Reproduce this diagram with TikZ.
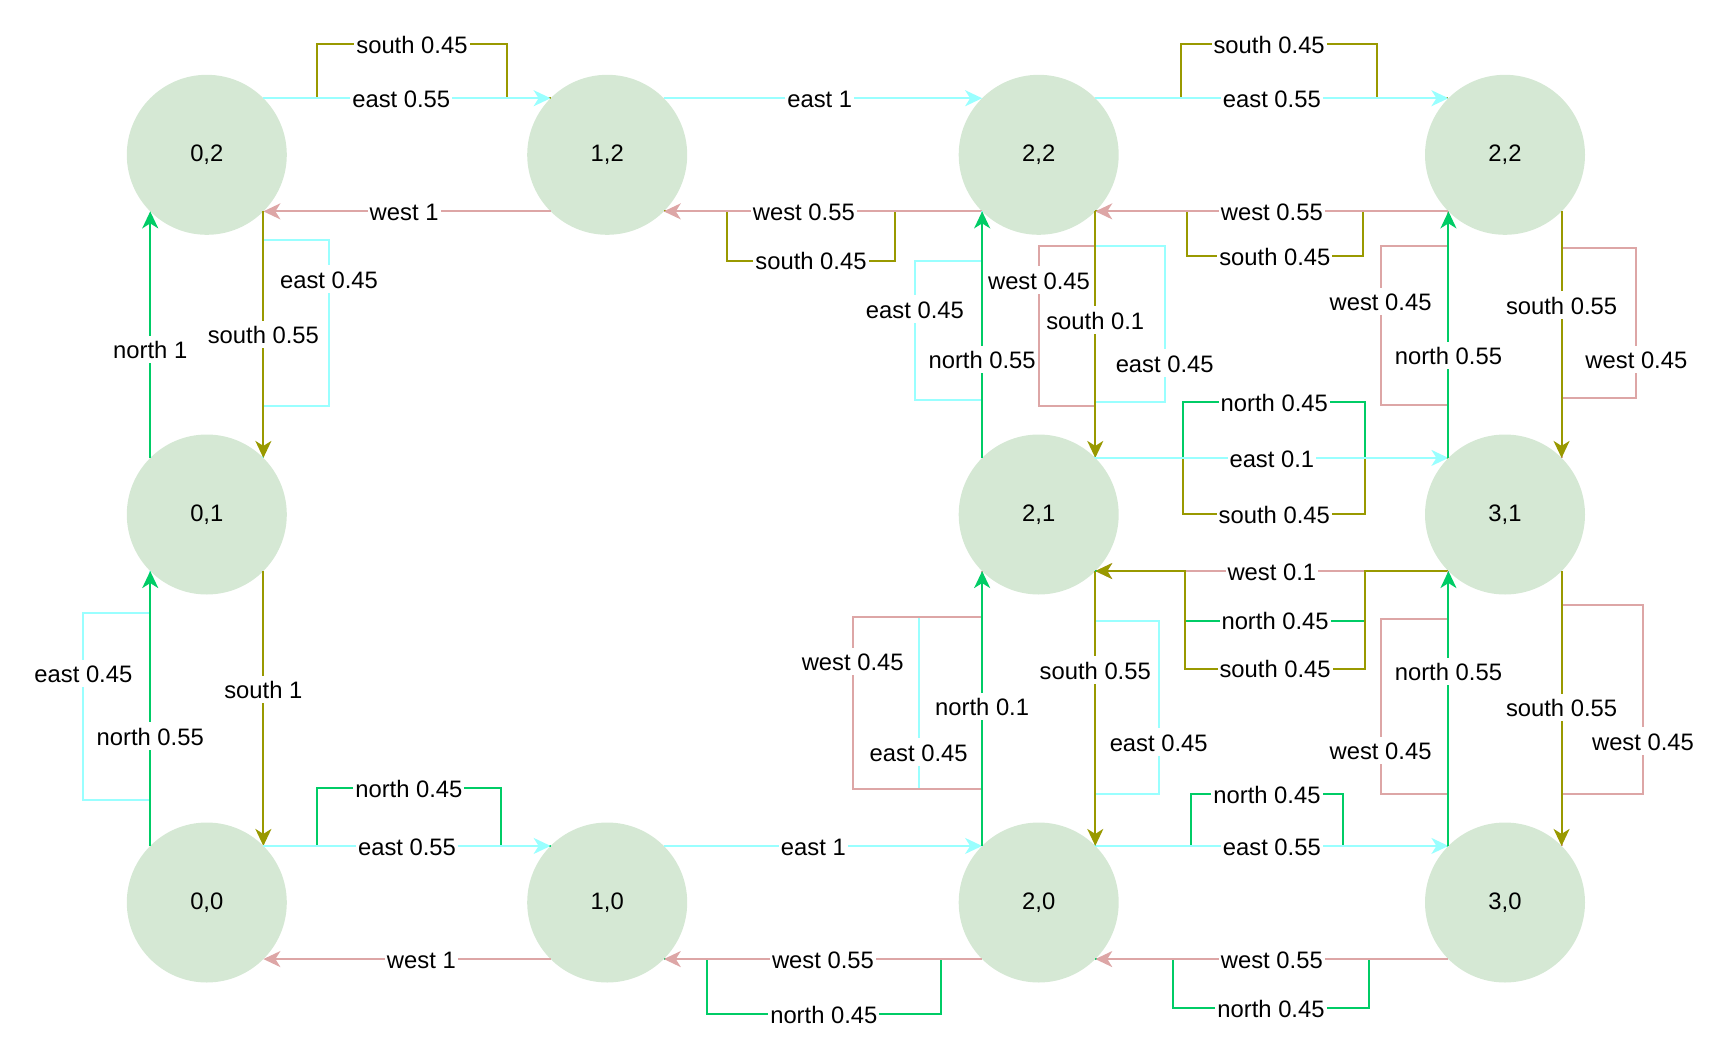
\documentclass[tikz,border=0pt]{standalone}
\usepackage{fontspec}
\setmainfont{Liberation Sans}
\usetikzlibrary{arrows.meta}
\definecolor{nfill}{HTML}{D5E8D4}
\definecolor{ccy}{HTML}{99FFFF}
\definecolor{cpk}{HTML}{DDA6A6}
\definecolor{cgr}{HTML}{00CC66}
\definecolor{col}{HTML}{999900}
\begin{document}
\begin{tikzpicture}[x=1pt,y=-1pt,
  font=\fontsize{23.8pt}{28pt}\selectfont,
  st/.style={circle, fill=nfill, draw=none, minimum size=160pt, inner sep=0pt, outer sep=0pt},
  lb/.style={fill=white, inner xsep=2pt, inner ysep=2.5pt, text height=20.5pt, text depth=2pt},
  ecy/.style={draw=ccy, line width=2pt},
  epk/.style={draw=cpk, line width=2pt},
  egr/.style={draw=cgr, line width=2pt},
  eol/.style={draw=col, line width=2pt},
  tip/.style={-{Stealth[length=17pt,width=16pt,inset=5pt]}}]
\useasboundingbox (0,0) rectangle (1714,1044);
% states
\node[st] (n02) at (206.8,154.8) {0,2};
\node[st] (n12) at (607.2,154.8) {1,2};
\node[st] (n22) at (1038.7,154.8) {2,2};
\node[st] (n32) at (1505,154.8) {2,2};
\node[st] (n01) at (206.8,514.5) {0,1};
\node[st] (n21) at (1038.7,514.5) {2,1};
\node[st] (n31) at (1505,514.5) {3,1};
\node[st] (n00) at (206.8,902.5) {0,0};
\node[st] (n10) at (607.2,902.5) {1,0};
\node[st] (n20) at (1038.7,902.5) {2,0};
\node[st] (n30) at (1505,902.5) {3,0};
% top row
\draw[eol] (n02.north east) -| (317,44.3) -- node[lb]{south 0.45} (506.9,44.3) |- (n12.north west);
\draw[ecy,tip] (n02.north east) -- node[lb,pos=0.48]{east 0.55} (n12.north west);
\draw[ecy,tip] (n12.north east) -- node[lb,pos=0.49]{east 1} (n22.north west);
\draw[epk,tip] (n12.south west) -- node[lb,pos=0.51]{west 1} (n02.south east);
\draw[eol] (n22.south west) -| (895.3,260.7) -- node[lb]{south 0.45} (726.7,260.7) |- (n12.south east);
\draw[epk,tip] (n22.south west) -- node[lb,pos=0.56]{west 0.55} (n12.south east);
\draw[eol] (n22.north east) -| (1181.1,44.3) -- node[lb,pos=0.45]{south 0.45} (1376.8,44.3) |- (n32.north west);
\draw[ecy,tip] (n22.north east) -- node[lb]{east 0.55} (n32.north west);
\draw[eol] (n32.south west) -| (1363.1,256.3) -- node[lb]{south 0.45} (1186.6,256.3) |- (n22.south east);
\draw[epk,tip] (n32.south west) -- node[lb]{west 0.55} (n22.south east);
% column 0
\draw[ecy] (n02.south east) |- (329,240) -- node[lb,pos=0.235]{east 0.45} (329,406) -| (n01.north east);
\draw[eol,tip] (n02.south east) -- node[lb]{south 0.55} (n01.north east);
\draw[egr,tip] (n01.north west) -- node[lb,pos=0.44]{north 1} (n02.south west);
\draw[eol,tip] (n01.south east) -- node[lb,pos=0.43]{south 1} (n00.north east);
\draw[ecy] (n00.north west) |- (83.4,800) -- node[lb,pos=0.675]{east 0.45} (83.4,612.5) -| (n01.south west);
\draw[egr,tip] (n00.north west) -- node[lb,pos=0.4]{north 0.55} (n01.south west);
% bottom row
\draw[egr] (n00.north east) -| (317,788.3) -- node[lb]{north 0.45} (500.8,788.3) |- (n10.north west);
\draw[ecy,tip] (n00.north east) -- node[lb]{east 0.55} (n10.north west);
\draw[epk,tip] (n10.south west) -- node[lb,pos=0.45]{west 1} (n00.south east);
\draw[ecy,tip] (n10.north east) -- node[lb,pos=0.47]{east 1} (n20.north west);
\draw[egr] (n20.south west) -| (941,1014.3) -- node[lb]{north 0.45} (706.7,1014.3) |- (n10.south east);
\draw[epk,tip] (n20.south west) -- node[lb]{west 0.55} (n10.south east);
\draw[egr] (n20.north east) -| (1191,794.3) -- node[lb]{north 0.45} (1342.9,794.3) |- (n30.north west);
\draw[ecy,tip] (n20.north east) -- node[lb]{east 0.55} (n30.north west);
\draw[egr] (n30.south west) -| (1369.1,1008) -- node[lb]{north 0.45} (1172.9,1008) |- (n20.south east);
\draw[epk,tip] (n30.south west) -- node[lb]{west 0.55} (n20.south east);
% column 2, upper
\draw[ecy] (n21.north west) |- (914.9,400.1) -- node[lb,pos=0.654]{east 0.45} (914.9,260.6) -| (n22.south west);
\draw[egr,tip] (n21.north west) -- node[lb,pos=0.4]{north 0.55} (n22.south west);
\draw[epk] (n22.south east) |- (1039,246.3) -- node[lb,pos=0.21]{west 0.45} (1039,406.1) -| (n21.north east);
\draw[ecy] (n22.south east) |- (1164.7,246.3) -- node[lb,pos=0.75]{east 0.45} (1164.7,402.1) -| (n21.north east);
\draw[eol,tip] (n22.south east) -- node[lb,pos=0.44]{south 0.1} (n21.north east);
% column 2, lower
\draw[ecy] (n20.north west) |- (918.7,789) -- node[lb,pos=0.216]{east 0.45} (918.7,616.7) -| (n21.south west);
\draw[epk] (n20.north west) |- (852.7,789) -- node[lb,pos=0.74]{west 0.45} (852.7,616.7) -| (n21.south west);
\draw[egr,tip] (n20.north west) -- node[lb,pos=0.507]{north 0.1} (n21.south west);
\draw[ecy] (n21.south east) |- (1158.7,620.5) -- node[lb,pos=0.70]{east 0.45} (1158.7,794.3) -| (n20.north east);
\draw[eol,tip] (n21.south east) -- node[lb,pos=0.36]{south 0.55} (n20.north east);
% middle row
\draw[egr] (n21.north east) -| (1183.3,402.1) -- node[lb]{north 0.45} (1365.3,402.1) |- (n31.north west);
\draw[eol] (n21.north east) -| (1183.3,514.3) -- node[lb]{south 0.45} (1365.3,514.3) |- (n31.north west);
\draw[ecy,tip] (n21.north east) -- node[lb]{east 0.1} (n31.north west);
\draw[epk,tip] (n31.south west) -- node[lb]{west 0.1} (n21.south east);
\draw[egr] (n31.south west) -| (1365.3,620.5) -- node[lb]{north 0.45} (1184.9,620.5) |- (n21.south east);
\draw[eol,tip] (n31.south west) -| (1365.3,668.5) -- node[lb]{south 0.45} (1184.9,668.5) |- (n21.south east);
% column 3
\draw[epk] (n31.north west) |- (1380.6,404.5) -- node[lb,pos=0.65]{west 0.45} (1380.6,246.3) -| (n32.south west);
\draw[egr,tip] (n31.north west) -- node[lb,pos=0.415]{north 0.55} (n32.south west);
\draw[epk] (n32.south east) |- (1636.4,248) -- node[lb,pos=0.744]{west 0.45} (1636.4,397.8) -| (n31.north east);
\draw[eol,tip] (n32.south east) -- node[lb,pos=0.38]{south 0.55} (n31.north east);
\draw[epk] (n30.north west) |- (1380.6,794.3) -- node[lb,pos=0.25]{west 0.45} (1380.6,618.5) -| (n31.south west);
\draw[egr,tip] (n30.north west) -- node[lb,pos=0.634]{north 0.55} (n31.south west);
\draw[epk] (n31.south east) |- (1643,604.6) -- node[lb,pos=0.72]{west 0.45} (1643,794.3) -| (n30.north east);
\draw[eol,tip] (n31.south east) -- node[lb,pos=0.496]{south 0.55} (n30.north east);
\end{tikzpicture}
\end{document}
